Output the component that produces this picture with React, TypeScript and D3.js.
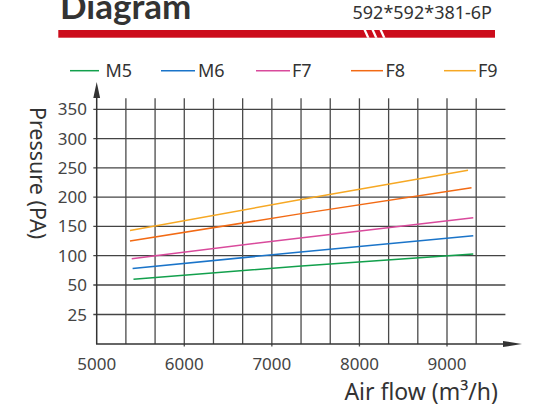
import React from "react";
import * as d3 from "d3";

const seriesNames = ["M5", "M6", "F7", "F8", "F9"];
const seriesColors = ["#12a04c", "#1a74c9", "#d94a9c", "#f26a14", "#f6a824"];
const airflow = [
  [5420, 7300, 9300],
  [5410, 7300, 9300],
  [5400, 7300, 9300],
  [5380, 7300, 9280],
  [5380, 7300, 9240],
];
const pressure = [
  [60, 82, 103],
  [78, 106, 134],
  [95, 130, 165],
  [125, 171, 216],
  [143, 195, 246],
];
const xTicks = [5000, 6000, 7000, 8000, 9000];
const yTicks = [25, 50, 100, 150, 200, 250, 300, 350];

const FONT = "'Noto Sans', 'Open Sans', sans-serif";

export default function App() {
  const W = 538, H = 406;
  const x = d3.scaleLinear().domain([5000, 9000]).range([96.7, 447]);
  const y = d3.scaleLinear().domain([0, 50, 350]).range([344, 285, 109.3]);
  const step = 1000 / 3;
  const xGrid = d3.range(1, 14).map((i) => 5000 + i * step);
  const gridRight = x(5000 + 14 * step);
  const line = d3
    .line<[number, number]>()
    .x((d) => x(d[0]))
    .y((d) => y(d[1]));
  const legendX = [70, 161, 256, 351, 444];
  const legendLen = [29, 34, 34, 32, 32];
  const legendTextX = [105.5, 198, 292, 385.5, 478];

  return (
    <svg
      width={W}
      height={H}
      style={{ position: "absolute", left: 0, top: 0, background: "#fff" }}
      fontFamily={FONT}
    >
      <text x={60} y={18.5} fontSize={35} fontWeight={700} fill="#333" fontFamily="'Lato', 'Noto Sans', sans-serif">
        Diagram
      </text>
      <text x={492} y={18.5} fontSize={18} fill="#333" textAnchor="end">
        592*592*381-6P
      </text>
      <rect x={58.3} y={30} width={436.7} height={7.7} fill="#cc0c1b" />
      {[0, 1, 2].map((i) => (
        <polygon
          key={i}
          points={`${363.5 + i * 8},30 ${366 + i * 8},30 ${369.5 + i * 8},37.7 ${367 + i * 8},37.7`}
          fill="#fff"
        />
      ))}

      {seriesNames.map((n, i) => (
        <g key={n}>
          <line
            x1={legendX[i]}
            x2={legendX[i] + legendLen[i]}
            y1={70.7}
            y2={70.7}
            stroke={seriesColors[i]}
            strokeWidth={1.5}
          />
          <text x={legendTextX[i]} y={77} fontSize={18} fill="#333">
            {n}
          </text>
        </g>
      ))}

      {yTicks.map((t) => (
        <g key={t}>
          <line x1={93.3} x2={gridRight} y1={y(t)} y2={y(t)} stroke="#444" strokeWidth={1.3} />
          <text x={87} y={y(t) + 6} fontSize={17} fill="#444" textAnchor="end">
            {t}
          </text>
        </g>
      ))}
      {xGrid.map((g, i) => (
        <line
          key={i}
          x1={x(g)}
          x2={x(g)}
          y1={98.3}
          y2={(i + 1) % 3 === 0 ? 346.5 : 344}
          stroke="#4a4a4a"
          strokeWidth={1.3}
        />
      ))}
      <line x1={96.7} x2={96.7} y1={90} y2={344} stroke="#333" strokeWidth={1.5} />
      <polygon points="96.7,82 93.3,98 100.1,98" fill="#333" />
      <line x1={96} x2={510} y1={344} y2={344} stroke="#333" strokeWidth={1.5} />
      <polygon points="522,344 503,341 503,347" fill="#333" />

      {xTicks.map((t) => (
        <text key={t} x={x(t)} y={370} fontSize={17} fill="#444" textAnchor="middle">
          {t}
        </text>
      ))}
      <text x={498} y={400} fontSize={23} fill="#333" textAnchor="end">
        Air flow (m³/h)
      </text>
      <text
        transform="translate(30,173) rotate(90)"
        fontSize={21.5}
        fill="#333"
        textAnchor="middle"
      >
        Pressure (PA)
      </text>

      {seriesNames.map((n, i) => (
        <path
          key={n}
          d={line(airflow[i].map((a, j) => [a, pressure[i][j]] as [number, number])) || ""}
          fill="none"
          stroke={seriesColors[i]}
          strokeWidth={1.5}
        />
      ))}
    </svg>
  );
}
